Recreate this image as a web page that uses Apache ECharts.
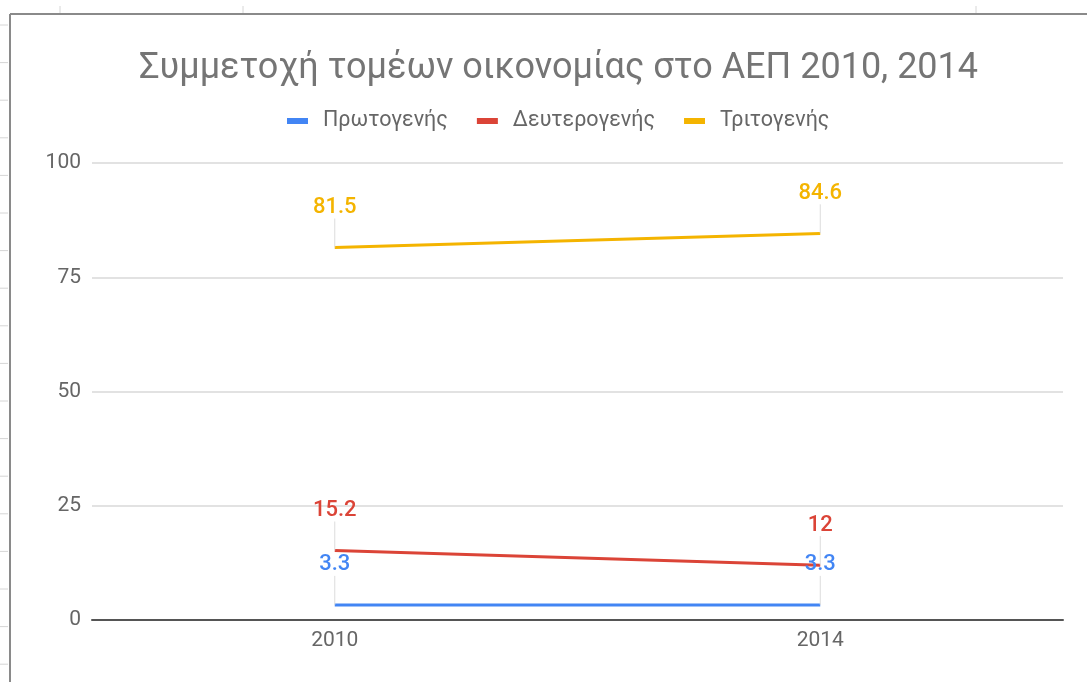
<!DOCTYPE html>
<html>
<head>
<meta charset="utf-8">
<script src="https://cdn.jsdelivr.net/npm/echarts@6/dist/echarts.min.js"></script>
<style>
  html, body { margin: 0; padding: 0; background: #fff; }
  #chart { width: 1087px; height: 682px; }
</style>
</head>
<body>
<div id="chart"></div>
<script>
// data
const years = ['2010', '2014']
const seriesNames = ['Πρωτογενής', 'Δευτερογενής', 'Τριτογενής']
const primary = [3.3, 3.3]
const secondary = [15.2, 12]
const tertiary = [81.5, 84.6]
const yTicks = [0, 25, 50, 75, 100]

const COLORS = ['#4285F4', '#DB4437', '#F4B400']
const FONT = 'Roboto, "Noto Sans", sans-serif'

const chart = echarts.init(document.getElementById('chart'))

// spreadsheet cell marks around the embedded chart frame
const sheetMarks = []
for (let y = 25; y < 682; y += 37.6) {
  sheetMarks.push({ type: 'line', shape: { x1: 0, y1: y, x2: 8, y2: y }, style: { stroke: '#d6d6d6', lineWidth: 1 } })
}
;[60, 243, 976].forEach(x => {
  sheetMarks.push({ type: 'line', shape: { x1: x, y1: 6, x2: x, y2: 13 }, style: { stroke: '#d6d6d6', lineWidth: 1 } })
})

const makeSeries = (name, data, idx) => ({
  name,
  type: 'line',
  data,
  symbol: 'circle',
  symbolSize: 0.1,
  showSymbol: true,
  lineStyle: { width: 3, color: COLORS[idx] },
  itemStyle: { color: COLORS[idx] },
  label: {
    show: true,
    position: 'top',
    distance: 4,
    color: COLORS[idx],
    fontSize: 22,
    fontFamily: FONT,
    fontWeight: 500
  },
  labelLayout: { dy: -25 },
  labelLine: { show: true, lineStyle: { color: '#dcdcdc', width: 1 } },
  emphasis: { disabled: true }
})

chart.setOption({
  animation: false,
  backgroundColor: '#fff',
  color: COLORS,
  title: {
    text: 'Συμμετοχή τομέων οικονομίας στο ΑΕΠ 2010, 2014',
    left: 134,
    top: 46,
    textStyle: { color: '#757575', fontSize: 36, fontWeight: 'normal', fontFamily: FONT }
  },
  legend: {
    top: 105,
    left: 282,
    itemWidth: 21,
    itemHeight: 6,
    itemGap: 29,
    icon: 'rect',
    textStyle: { color: '#666', fontSize: 21.5, fontFamily: FONT, padding: [0, 0, 0, 10] },
    data: seriesNames
  },
  grid: { left: 92, right: 24, top: 163, bottom: 62, containLabel: false },
  xAxis: {
    type: 'category',
    data: years,
    axisLine: { lineStyle: { color: '#555', width: 2 } },
    axisTick: { show: false },
    axisLabel: { color: '#666', fontSize: 21, fontFamily: FONT, margin: 10 }
  },
  yAxis: {
    type: 'value',
    min: yTicks[0],
    max: yTicks[yTicks.length - 1],
    interval: 25,
    axisLine: { show: false },
    axisTick: { show: false },
    splitLine: { lineStyle: { color: '#d9d9d9', width: 1.5 } },
    axisLabel: { color: '#666', fontSize: 21, fontFamily: FONT, margin: 11 }
  },
  graphic: [
    ...sheetMarks,
    { type: 'line', shape: { x1: 10, y1: 14, x2: 1087, y2: 14 }, style: { stroke: '#8a8a8a', lineWidth: 2 } },
    { type: 'line', shape: { x1: 10, y1: 14, x2: 10, y2: 682 }, style: { stroke: '#8a8a8a', lineWidth: 2 } }
  ],
  series: [
    makeSeries(seriesNames[0], primary, 0),
    makeSeries(seriesNames[1], secondary, 1),
    makeSeries(seriesNames[2], tertiary, 2)
  ]
})

window.addEventListener('resize', () => chart.resize())
</script>
</body>
</html>
